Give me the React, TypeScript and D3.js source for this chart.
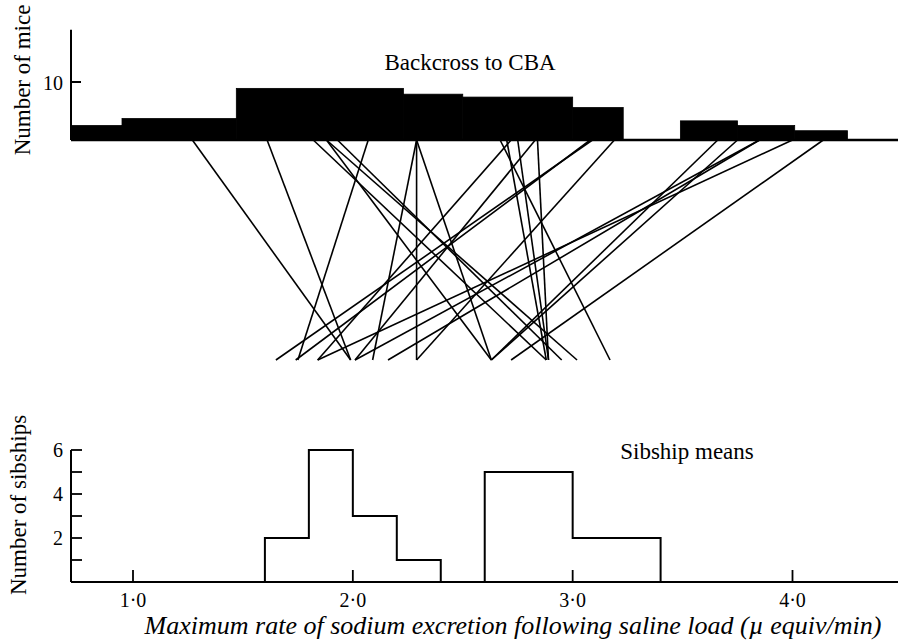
import React from "react";
import * as d3 from "d3";

// Backcross to CBA: histogram blocks (bin edges in µequiv/min, heights in mice)
const mouseBinStart = [0.72, 0.95, 1.47, 2.23, 2.5, 3.0, 3.49, 3.75, 4.01];
const mouseBinEnd = [0.95, 1.47, 2.23, 2.5, 3.0, 3.23, 3.75, 4.01, 4.25];
const mouseCounts = [2.5, 3.7, 8.9, 7.9, 7.4, 5.6, 3.3, 2.5, 1.6];

// individual mouse value -> its sibship mean
const individualValue = [1.27, 1.61, 1.82, 1.88, 1.93, 1.88, 2.07, 2.29, 2.29, 2.29, 2.67, 2.7, 2.75, 2.72, 2.84, 2.83, 3.09, 3.19, 3.66, 3.75, 3.85, 3.85, 4.0, 4.14, 3.08];
const sibshipValue = [1.99, 1.99, 2.88, 3.02, 2.95, 2.63, 1.75, 2.09, 2.29, 2.63, 3.17, 2.88, 2.89, 1.84, 2.89, 2.01, 1.65, 2.29, 2.63, 2.63, 2.16, 2.01, 1.84, 2.72, 1.74];

// Sibship means histogram
const sibBinStart = [1.6, 1.8, 2.0, 2.2, 2.4, 2.6, 2.8, 3.0, 3.2];
const sibCounts = [2, 6, 3, 1, 0, 5, 5, 2, 2];
const sibBinWidth = 0.2;

const xTicks = [1, 2, 3, 4];
const xTickLabels = ["1·0", "2·0", "3·0", "4·0"];
const sibTicks = [1, 2, 3, 4, 5, 6];
const sibTickLabels = ["", "2", "", "4", "", "6"];

const W = 900, H = 643;
const axisX = 71;
const topBase = 140;
const linkBottom = 360;
const font = "'Liberation Serif', 'Times New Roman', serif";

export default function App() {
  const x = d3.scaleLinear().domain([1, 4]).range([133, 792.5]);
  const yTop = d3.scaleLinear().domain([0, 10]).range([topBase, 82]);
  const yBot = d3.scaleLinear().domain([0, 6]).range([582, 450]);

  // step outline for sibship histogram, split at empty bins
  const segments: [number, number][][] = [];
  let cur: [number, number][] = [];
  sibCounts.forEach((c, i) => {
    const x0 = sibBinStart[i], x1 = x0 + sibBinWidth;
    if (c === 0) {
      if (cur.length) { cur.push([cur[cur.length - 1][0], 0]); segments.push(cur); cur = []; }
      return;
    }
    if (!cur.length) cur.push([x0, 0]);
    cur.push([x0, c], [x1, c]);
  });
  if (cur.length) { cur.push([cur[cur.length - 1][0], 0]); segments.push(cur); }
  const stepLine = d3.line<[number, number]>().x(d => x(d[0])).y(d => yBot(d[1]));

  return (
    <svg width={W} height={H} style={{ position: "absolute", left: 0, top: 0, background: "#fff" }} fontFamily={font}>
      {/* top panel */}
      <text transform={`translate(30,80) rotate(-90)`} textAnchor="middle" fontSize={23}>Number of mice</text>
      <line x1={axisX} x2={axisX} y1={topBase} y2={yTop(19)} stroke="#000" strokeWidth={2} />
      <line x1={axisX} x2={axisX + 10} y1={yTop(10)} y2={yTop(10)} stroke="#000" strokeWidth={2} />
      <text x={63} y={yTop(10) + 8} textAnchor="end" fontSize={20}>10</text>
      <text x={470} y={70} textAnchor="middle" fontSize={23}>Backcross to CBA</text>
      {mouseCounts.map((c, i) => (
        <rect key={i} x={x(mouseBinStart[i])} y={yTop(c)} width={x(mouseBinEnd[i]) - x(mouseBinStart[i])}
          height={topBase - yTop(c)} fill="#000" stroke="#000" strokeWidth={0.8} />
      ))}
      <line x1={axisX} x2={898} y1={topBase} y2={topBase} stroke="#000" strokeWidth={2.5} />

      {/* connecting lines */}
      {individualValue.map((v, i) => (
        <line key={i} x1={x(v)} y1={topBase} x2={x(sibshipValue[i])} y2={linkBottom} stroke="#000" strokeWidth={1.6} />
      ))}

      {/* bottom panel */}
      <text transform={`translate(26,505) rotate(-90)`} textAnchor="middle" fontSize={23}>Number of sibships</text>
      <line x1={axisX} x2={axisX} y1={yBot(0)} y2={yBot(6)} stroke="#000" strokeWidth={2} />
      {sibTicks.map((t, i) => (
        <g key={t}>
          <line x1={axisX} x2={axisX + 11} y1={yBot(t)} y2={yBot(t)} stroke="#000" strokeWidth={1.8} />
          {sibTickLabels[i] && <text x={63} y={yBot(t) + 7} textAnchor="end" fontSize={20}>{sibTickLabels[i]}</text>}
        </g>
      ))}
      <line x1={axisX} x2={898} y1={yBot(0)} y2={yBot(0)} stroke="#000" strokeWidth={2} />
      {xTicks.map((t, i) => (
        <g key={t}>
          <line x1={x(t)} x2={x(t)} y1={yBot(0)} y2={yBot(0) - 12} stroke="#000" strokeWidth={1.8} />
          <text x={x(t)} y={607} textAnchor="middle" fontSize={20}>{xTickLabels[i]}</text>
        </g>
      ))}
      {segments.map((s, i) => (
        <path key={i} d={stepLine(s) || ""} fill="none" stroke="#000" strokeWidth={2} />
      ))}
      <text x={687} y={459} textAnchor="middle" fontSize={23}>Sibship means</text>
      <text x={513} y={634} textAnchor="middle" fontSize={26} fontStyle="italic">
        Maximum rate of sodium excretion following saline load (<tspan>µ</tspan> equiv/min)
      </text>
    </svg>
  );
}
